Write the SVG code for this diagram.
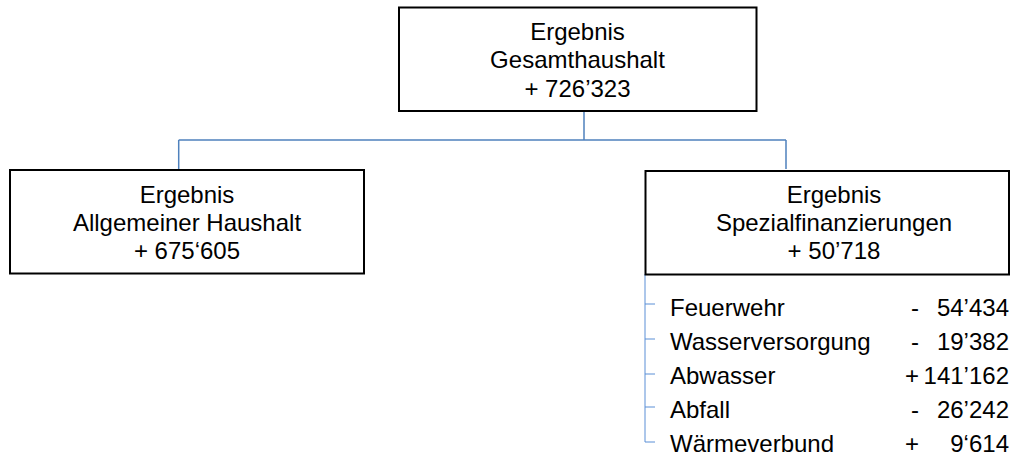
<svg xmlns="http://www.w3.org/2000/svg" width="1011" height="455" viewBox="0 0 1011 455">
<style>
.box{fill:#fff;stroke:#000;stroke-width:2}
.t{font-family:"Liberation Sans",Arial,sans-serif;font-size:24px;fill:#000}
.c{text-anchor:middle}
.e{text-anchor:end}
.con{fill:none;stroke:#4F81BD;stroke-width:1.5}
.tree{fill:none;stroke:#5B8FD6;stroke-width:1}
</style>
<rect width="1011" height="455" fill="#fff"/>
<g id="connectors">
<path class="con" d="M584,111 V140 M178.7,140 H786 M178.7,140 V169 M786,140 V169"/>
<path class="tree" d="M645,274 V442 H655 M645,304 H655 M645,339 H655 M645,374 H655 M645,407 H655"/>
</g>
<g id="gesamt">
<rect class="box" x="399" y="7.5" width="357.5" height="103.5"/>
<text class="t c" x="577.5" y="39.5">Ergebnis</text>
<text class="t c" x="577.5" y="68">Gesamthaushalt</text>
<text class="t c" x="577.5" y="96.5">+ 726’323</text>
</g>
<g id="allgemein">
<rect class="box" x="10" y="170" width="354" height="103.5"/>
<text class="t c" x="187" y="202.5">Ergebnis</text>
<text class="t c" x="187" y="230.5">Allgemeiner Haushalt</text>
<text class="t c" x="187" y="258.5">+ 675‘605</text>
</g>
<g id="spezial">
<rect class="box" x="645.5" y="171" width="363.5" height="103.5"/>
<text class="t c" x="834" y="203">Ergebnis</text>
<text class="t c" x="834" y="231">Spezialfinanzierungen</text>
<text class="t c" x="834" y="259">+ 50’718</text>
</g>
<g id="feuerwehr">
<text class="t" x="670" y="315.5">Feuerwehr</text>
<text class="t e" x="919" y="315.5">-</text>
<text class="t e" x="1009" y="315.5">54’434</text>
</g>
<g id="wasserversorgung">
<text class="t" x="670" y="349.5">Wasserversorgung</text>
<text class="t e" x="919" y="349.5">-</text>
<text class="t e" x="1009" y="349.5">19’382</text>
</g>
<g id="abwasser">
<text class="t" x="670" y="383.5">Abwasser</text>
<text class="t e" x="919" y="383.5">+</text>
<text class="t e" x="1009" y="383.5">141’162</text>
</g>
<g id="abfall">
<text class="t" x="670" y="417.5">Abfall</text>
<text class="t e" x="919" y="417.5">-</text>
<text class="t e" x="1009" y="417.5">26’242</text>
</g>
<g id="waermeverbund">
<text class="t" x="670" y="451.5">Wärmeverbund</text>
<text class="t e" x="919" y="451.5">+</text>
<text class="t e" x="1009" y="451.5">9‘614</text>
</g>
</svg>
